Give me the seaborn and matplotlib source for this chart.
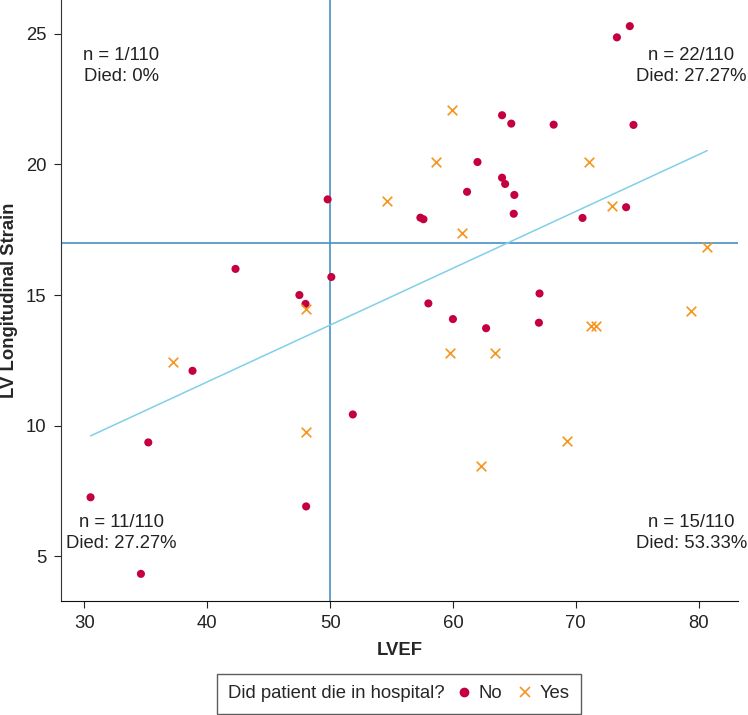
import numpy as np
import pandas as pd
import seaborn as sns
from matplotlib import pyplot as plt
from matplotlib.lines import Line2D
from matplotlib.offsetbox import HPacker

# patients who survived (died in hospital = No)
lvef_no = [49.8, 42.3, 50.1, 47.5, 48.0, 74.4, 73.35, 64.0, 64.75, 68.2,
           74.7, 62.0, 64.0, 64.25, 61.15, 65.0, 74.1, 64.95, 57.35, 57.6,
           70.55, 58.0, 67.05, 60.0, 67.0, 62.7, 38.8, 51.85, 35.2, 30.5,
           48.05, 34.6]
strain_no = [18.66, 16.0, 15.69, 15.0, 14.66, 25.29, 24.86, 21.88, 21.56, 21.52,
             21.51, 20.09, 19.49, 19.25, 18.95, 18.83, 18.36, 18.11, 17.96, 17.9,
             17.95, 14.68, 15.06, 14.08, 13.94, 13.73, 12.1, 10.43, 9.36, 7.26,
             6.91, 4.33]

# patients who died in hospital (Yes)
lvef_yes = [54.6, 48.0, 59.9, 58.65, 71.05, 72.95, 60.7, 80.7, 79.4, 71.2,
            71.65, 59.8, 63.4, 69.3, 62.25, 37.2, 48.05]
strain_yes = [18.59, 14.48, 22.08, 20.08, 20.08, 18.39, 17.38, 16.85, 14.38, 13.8,
              13.82, 12.78, 12.78, 9.41, 8.47, 12.45, 9.76]

# quadrant summaries
quad_labels = ["n = 1/110\nDied: 0%", "n = 22/110\nDied: 27.27%",
               "n = 11/110\nDied: 27.27%", "n = 15/110\nDied: 53.33%"]
lvef_cut = 50
strain_cut = 17

df = pd.DataFrame({
    "LVEF": lvef_no + lvef_yes,
    "LV Longitudinal Strain": strain_no + strain_yes,
    "died": ["No"] * len(lvef_no) + ["Yes"] * len(lvef_yes),
})

sns.set_style("ticks")
plt.rcParams['font.family'] = ['Liberation Sans', 'DejaVu Sans']

red = "#C4003F"
orange = "#F7941D"
refblue = "#4A90C2"
fitblue = "#7FD0E8"
fs = 13.3

fig = plt.figure(figsize=(7.48, 7.15), dpi=100)
ax = fig.add_axes([0.081, 0.1594, 0.906, 0.8406])

# regression line over all patients
sns.regplot(x="LVEF", y="LV Longitudinal Strain", data=df, ci=None, scatter=False,
            ax=ax, line_kws=dict(color=fitblue, lw=1.1, zorder=2))

ax.axvline(lvef_cut, color=refblue, lw=1.2, zorder=1)
ax.axhline(strain_cut, color=refblue, lw=1.2, zorder=1)

sns.scatterplot(x="LVEF", y="LV Longitudinal Strain", data=df[df.died == "No"],
                color=red, marker="o", s=34, edgecolor="none", ax=ax, zorder=3)
sns.scatterplot(x="LVEF", y="LV Longitudinal Strain", data=df[df.died == "Yes"],
                color=orange, marker="x", s=48, linewidth=1.2, ax=ax, zorder=3)

pos = [(33.0, 23.76), (79.4, 23.76), (33.0, 5.89), (79.4, 5.89)]
for (tx, ty), lab in zip(pos, quad_labels):
    ax.text(tx, ty, lab, ha="center", va="center", fontsize=fs,
            color="#222222", linespacing=1.3)

ax.set_xlim(28.06, 83.23)
ax.set_ylim(3.29, 26.29)
ax.set_xticks([30, 40, 50, 60, 70, 80])
ax.set_yticks([5, 10, 15, 20, 25])
ax.tick_params(labelsize=fs, length=5, width=0.8, colors="#222222", pad=5)
ax.set_xlabel("LVEF", fontsize=fs, fontweight="bold", labelpad=7)
ax.set_ylabel("LV Longitudinal Strain", fontsize=fs, fontweight="bold", labelpad=6)
sns.despine(ax=ax)
ax.spines["left"].set_color("#333333")
ax.spines["bottom"].set_color("#111111")

handles = [
    Line2D([], [], linestyle="none", marker="o", color=red, markersize=6),
    Line2D([], [], linestyle="none", marker="x", color=orange, markersize=7, markeredgewidth=1.2),
]
leg = fig.legend(handles, ["No", "Yes"], ncol=2, title="Did patient die in hospital?",
                 loc="lower center", bbox_to_anchor=(0.533, -0.011), fontsize=fs,
                 title_fontsize=fs, frameon=True, fancybox=False, edgecolor="#333333",
                 handlelength=0.8, handletextpad=0.4, columnspacing=0.8,
                 borderpad=0.62)
leg.get_frame().set_linewidth(1.0)
# put the title on the same row as the entries
leg._legend_box = HPacker(pad=leg.borderpad * fs, sep=0.65 * fs, align="center",
                          children=[leg._legend_title_box, leg._legend_handle_box])
leg._legend_box.set_figure(fig)
leg._legend_box.set_offset(leg._findoffset)

fig.savefig("out.png", dpi=100)
